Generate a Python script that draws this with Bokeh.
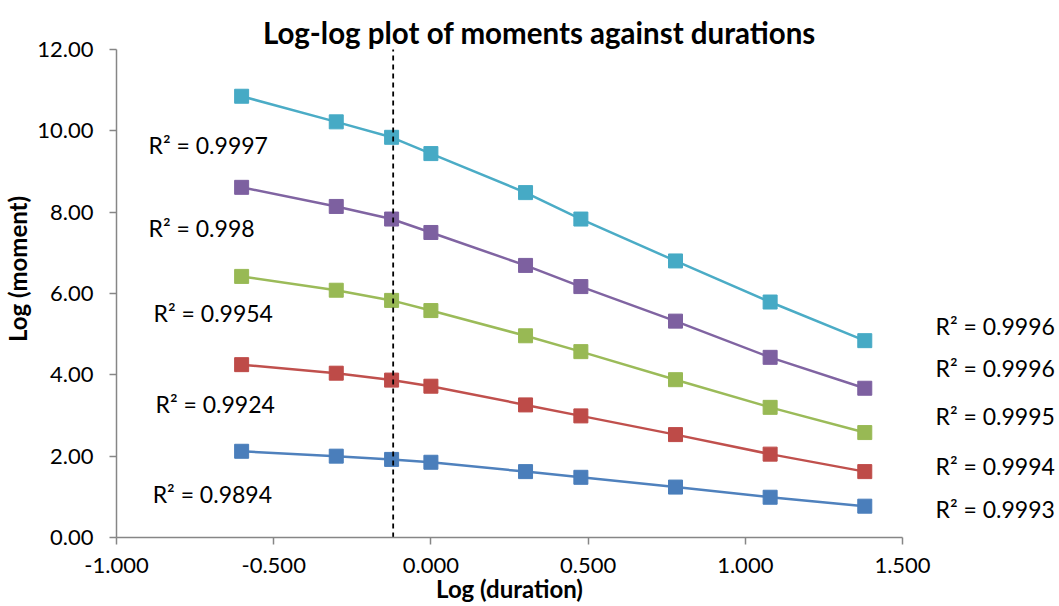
from bokeh.plotting import figure
from bokeh.layouts import row
from bokeh.models import Range1d, Label, NumeralTickFormatter, FixedTicker
from bokeh.embed import file_html
from bokeh.resources import INLINE

# ---- data ----
log_duration = [-0.602, -0.301, -0.125, 0.0, 0.301, 0.477, 0.778, 1.079, 1.380]
series_a = [2.12, 2.00, 1.92, 1.85, 1.62, 1.48, 1.24, 0.99, 0.77]   # blue
series_b = [4.25, 4.04, 3.87, 3.72, 3.26, 2.99, 2.53, 2.05, 1.62]   # red
series_c = [6.42, 6.08, 5.83, 5.58, 4.96, 4.57, 3.88, 3.20, 2.58]   # green
series_d = [8.61, 8.14, 7.83, 7.50, 6.69, 6.17, 5.32, 4.43, 3.67]   # purple
series_e = [10.85, 10.22, 9.84, 9.44, 8.48, 7.83, 6.80, 5.79, 4.84] # cyan
dashed_x = -0.12
r2_left = ["R² = 0.9894", "R² = 0.9924", "R² = 0.9954", "R² = 0.998", "R² = 0.9997"]
r2_right = ["R² = 0.9993", "R² = 0.9994", "R² = 0.9995", "R² = 0.9996", "R² = 0.9996"]
x_ticks = [-1.0, -0.5, 0.0, 0.5, 1.0, 1.5]
y_ticks = [0, 2, 4, 6, 8, 10, 12]
title_text = "Log-log plot of moments against durations"

FONT = "Lato"
line_colors = ["#4F81BD", "#C0504D", "#9BBB59", "#8064A2", "#4BACC6"]
marker_colors = ["#4A7EBB", "#BE4B48", "#98B954", "#7D60A0", "#46AAC5"]

PX_PER_X = 314.4
RIGHT_GAP = 32

y_range = Range1d(0, 13.204)
p = figure(frame_width=786, frame_height=537, output_backend="svg", toolbar_location=None,
           x_range=Range1d(-1.0, 1.5), y_range=y_range,
           min_border_left=116, min_border_right=RIGHT_GAP, min_border_top=0, min_border_bottom=69)
p.outline_line_color = None
p.xgrid.visible = False
p.ygrid.visible = False

for ax in (p.xaxis[0], p.yaxis[0]):
    ax.axis_line_color = "#868686"
    ax.axis_line_width = 1.5
    ax.major_tick_line_color = "#868686"
    ax.major_tick_line_width = 1.5
    ax.major_tick_in = 0
    ax.major_tick_out = 7
    ax.minor_tick_line_color = None
    ax.major_label_text_font = FONT
    ax.major_label_text_font_size = "22px"
    ax.major_label_text_color = "black"
    ax.axis_label_text_font = FONT
    ax.axis_label_text_font_style = "bold"
    ax.axis_label_text_font_size = "24px"
    ax.axis_label_text_color = "black"

p.yaxis.bounds = (0, 12)
p.xaxis.ticker = FixedTicker(ticks=x_ticks)
p.yaxis.ticker = FixedTicker(ticks=y_ticks)
p.xaxis.formatter = NumeralTickFormatter(format="0.000")
p.yaxis.formatter = NumeralTickFormatter(format="0.00")
p.xaxis.major_label_standoff = 13
p.yaxis.major_label_standoff = 16
p.xaxis.axis_label = "Log (duration)"
p.yaxis.axis_label = "Log (moment)"
p.xaxis.axis_label_standoff = -2
p.yaxis.axis_label_standoff = 2

all_series = [series_a, series_b, series_c, series_d, series_e]
for ys, lc, mc in zip(all_series, line_colors, marker_colors):
    p.line(log_duration, ys, line_color=lc, line_width=2.5)
    p.scatter(log_duration, ys, marker="square", size=14, fill_color=mc, line_color=mc)

p.segment(x0=[dashed_x], y0=[0], x1=[dashed_x], y1=[y_ticks[-1]],
          line_color="black", line_width=1.8, line_dash="5 4")

left_pos = [(-0.885, 1.06), (-0.876, 3.29), (-0.882, 5.51), (-0.898, 7.60), (-0.898, 9.66)]
for txt, (x, y) in zip(r2_left, left_pos):
    p.add_layout(Label(x=x, y=y, text=txt, text_font=FONT, text_font_size="23px",
                       text_color="black", text_align="left", text_baseline="middle"))

p.add_layout(Label(x=0.345, y=12.42, text=title_text,
                   text_font=FONT, text_font_style="bold", text_font_size="29.5px",
                   text_color="black", text_align="center", text_baseline="middle"))

# right-hand panel holding the right-side R² labels, sharing the y scale
p2_width = 1059 - (116 + 786 + RIGHT_GAP)
x2_start = 1.5 + RIGHT_GAP / PX_PER_X
p2 = figure(frame_width=p2_width, frame_height=537, output_backend="svg", toolbar_location=None,
            x_range=Range1d(x2_start, x2_start + p2_width / PX_PER_X), y_range=y_range,
            x_axis_type=None, y_axis_type=None,
            min_border_left=0, min_border_right=0, min_border_top=0, min_border_bottom=69)
p2.outline_line_color = None
p2.xgrid.visible = False
p2.ygrid.visible = False
right_pos = [(1.605, 0.71), (1.605, 1.77), (1.605, 2.98), (1.605, 4.16), (1.605, 5.19)]
for txt, (x, y) in zip(r2_right, right_pos):
    p2.add_layout(Label(x=x, y=y, text=txt, text_font=FONT, text_font_size="23px",
                        text_color="black", text_align="left", text_baseline="middle"))

layout = row(p, p2)
open("out.html", "w").write(file_html(layout, INLINE))
